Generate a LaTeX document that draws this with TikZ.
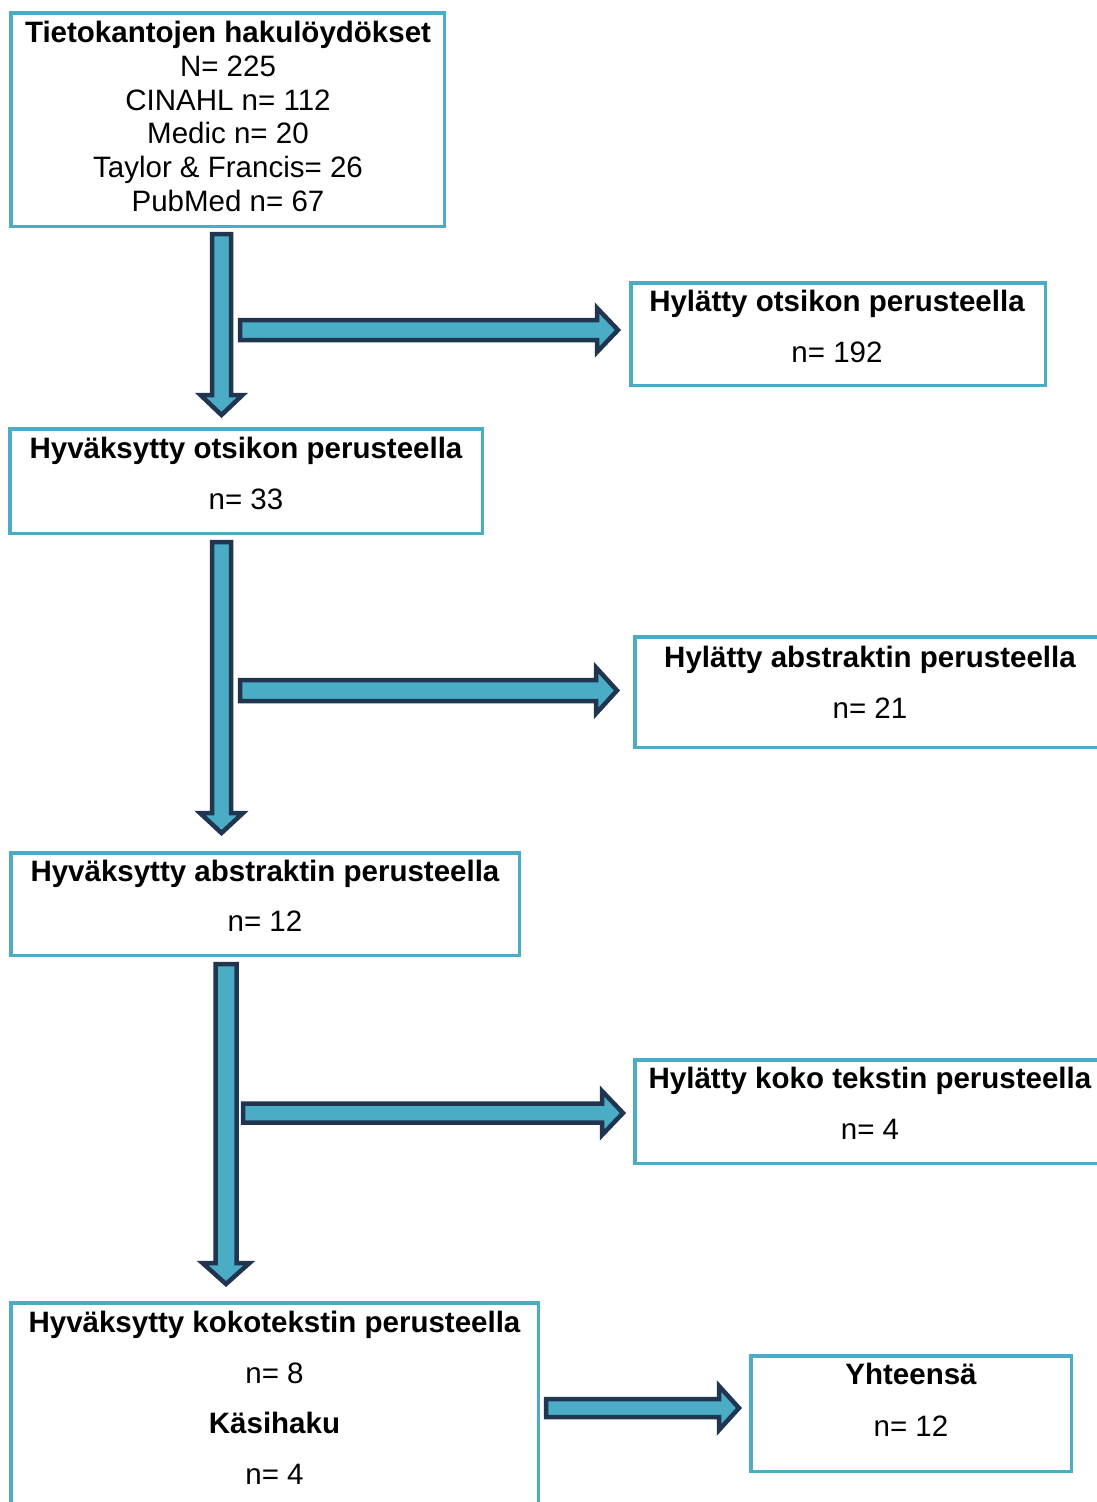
\documentclass[tikz,border=0pt]{standalone}
\usepackage{fontspec}
\setmainfont{Liberation Sans}
\usetikzlibrary{calc}
\definecolor{boxcol}{HTML}{4BACC6}
\definecolor{arrfill}{HTML}{4BACC6}
\definecolor{arrline}{HTML}{1F3550}
\tikzset{
  flowbox/.style={draw=boxcol, line width=3.5pt, fill=white, rectangle, inner sep=0pt},
  blockarrow/.style={draw=arrline, fill=arrfill, line width=4.5pt, line join=miter, miter limit=10},
  ttl/.style={anchor=base, inner sep=0pt, font=\fontsize{29.5}{34}\selectfont\bfseries},
  txt/.style={anchor=base, inner sep=0pt, font=\fontsize{29.5}{34}\selectfont},
}
% horizontal block arrow: #1 start, #2 tip, #3 shaft half, #4 head half, #5 head length
\newcommand\hblock[5]{%
  \draw[blockarrow] ($(#1)+(0,-#3)$) -- ($(#2)+(-#5,-#3)$) -- ($(#2)+(-#5,-#4)$) -- (#2)
    -- ($(#2)+(-#5,#4)$) -- ($(#2)+(-#5,#3)$) -- ($(#1)+(0,#3)$) -- cycle;}
% vertical (downward) block arrow
\newcommand\vblock[5]{%
  \draw[blockarrow] ($(#1)+(-#3,0)$) -- ($(#2)+(-#3,-#5)$) -- ($(#2)+(-#4,-#5)$) -- (#2)
    -- ($(#2)+(#4,-#5)$) -- ($(#2)+(#3,-#5)$) -- ($(#1)+(#3,0)$) -- cycle;}
\begin{document}
\begin{tikzpicture}[x=1pt,y=-1pt]
\path[use as bounding box, clip] (0,0) rectangle (1097,1502);
\fill[white] (0,0) rectangle (1097,1502);

% boxes
\node[flowbox, minimum width=433.5pt, minimum height=213.5pt] (b1) at (227.5,119.5) {};
\node[flowbox, minimum width=414.5pt, minimum height=102.5pt] (b2) at (838,334) {};
\node[flowbox, minimum width=472.5pt, minimum height=104.5pt] (b3) at (246,481) {};
\node[flowbox, minimum width=470.5pt, minimum height=110.5pt] (b4) at (870,692) {};
\node[flowbox, minimum width=508.5pt, minimum height=102.5pt] (b5) at (265,904) {};
\node[flowbox, minimum width=470.5pt, minimum height=103.5pt] (b6) at (870,1111.5) {};
\node[flowbox, minimum width=527.5pt, minimum height=215.5pt] (b7) at (274.5,1410.5) {};
\node[flowbox, minimum width=320.5pt, minimum height=115.5pt] (b8) at (911,1413.5) {};

% texts
\node[ttl] (b1t) at (228,42) {Tietokantojen hakulöydökset};
\node[txt] (b1a) at (228,76) {N= 225};
\node[txt] (b1b) at (228,110) {CINAHL n= 112};
\node[txt] (b1c) at (228,143) {Medic n= 20};
\node[txt] (b1d) at (228,177) {Taylor \& Francis= 26};
\node[txt] (b1e) at (228,211) {PubMed n= 67};

\node[ttl] (b2t) at (837,311) {Hylätty otsikon perusteella};
\node[txt] (b2a) at (837,362) {n= 192};

\node[ttl] (b3t) at (246,458) {Hyväksytty otsikon perusteella};
\node[txt] (b3a) at (246,509) {n= 33};

\node[ttl] (b4t) at (870,667) {Hylätty abstraktin perusteella};
\node[txt] (b4a) at (870,718) {n= 21};

\node[ttl] (b5t) at (265,881) {Hyväksytty abstraktin perusteella};
\node[txt] (b5a) at (265,931) {n= 12};

\node[ttl] (b6t) at (870,1088) {Hylätty koko tekstin perusteella};
\node[txt] (b6a) at (870,1139) {n= 4};

\node[ttl] (b7t) at (274.5,1332) {Hyväksytty kokotekstin perusteella};
\node[txt] (b7a) at (274.5,1383) {n= 8};
\node[ttl] (b7b) at (274.5,1433) {Käsihaku};
\node[txt] (b7c) at (274.5,1484) {n= 4};

\node[ttl] (b8t) at (911,1384) {Yhteensä};
\node[txt] (b8a) at (911,1436) {n= 12};

% arrow endpoints
\coordinate (v1s) at (221.5,234);  \coordinate (v1e) at (221.5,415);
\coordinate (v2s) at (221.5,542);  \coordinate (v2e) at (221.5,833);
\coordinate (v3s) at (226,964);    \coordinate (v3e) at (226,1284);
\coordinate (h1s) at (240,330);    \coordinate (h1e) at (618,330);
\coordinate (h2s) at (240,690.5);  \coordinate (h2e) at (617,690.5);
\coordinate (h3s) at (243,1113);   \coordinate (h3e) at (623,1113);
\coordinate (h4s) at (546,1408);   \coordinate (h4e) at (739,1408);

\vblock{v1s}{v1e}{9.5}{21}{20}
\vblock{v2s}{v2e}{9.5}{21.5}{20}
\vblock{v3s}{v3e}{10.5}{23.5}{21}
\hblock{h1s}{h1e}{10}{22}{21}
\hblock{h2s}{h2e}{10.5}{23}{21}
\hblock{h3s}{h3e}{9.5}{22}{21}
\hblock{h4s}{h4e}{9}{22}{20}
\end{tikzpicture}
\end{document}
